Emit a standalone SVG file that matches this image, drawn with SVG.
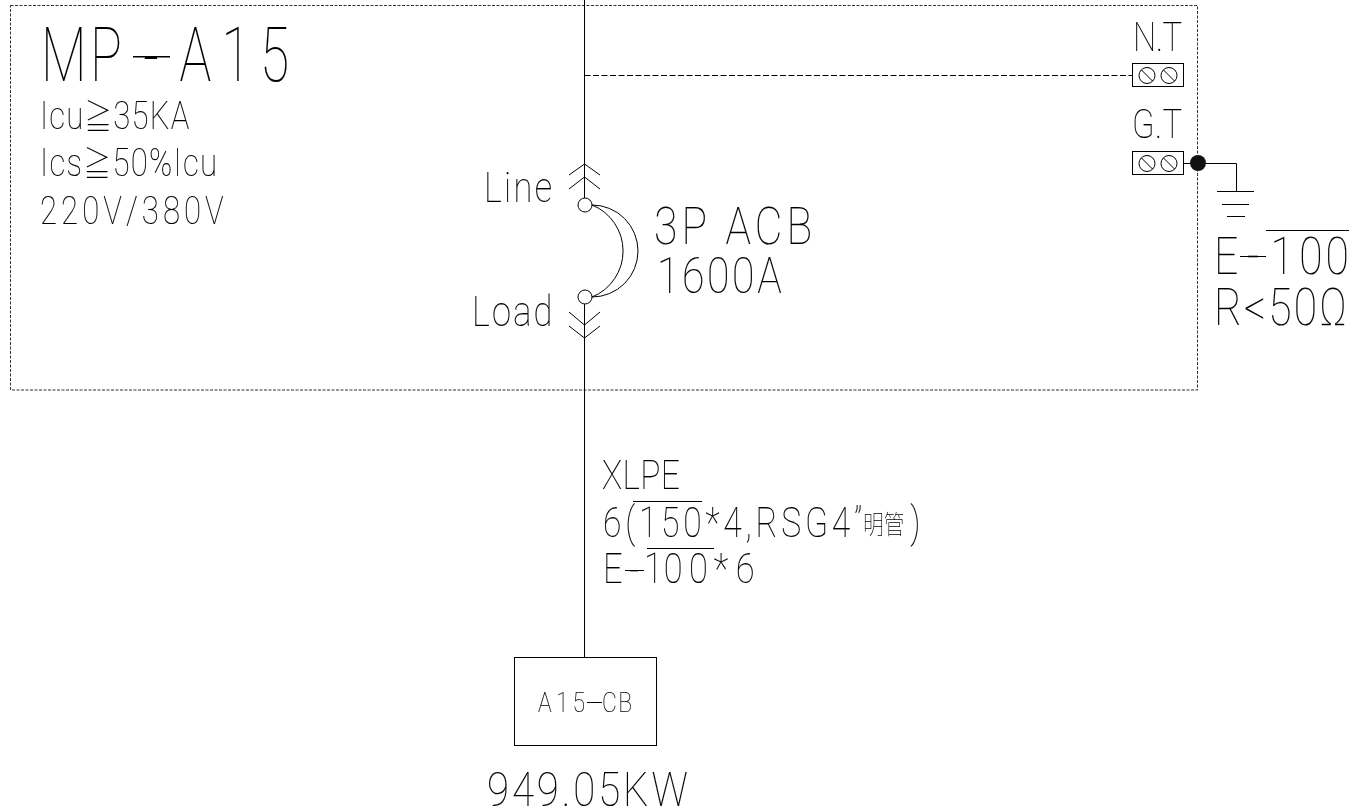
<svg xmlns="http://www.w3.org/2000/svg" width="1372" height="811" viewBox="0 0 1372 811">
<style>
.t{font-family:Roboto,"Liberation Sans",sans-serif;font-weight:100;fill:#000;stroke:#000;stroke-width:.12;filter:url(#g)}
.c{font-family:"Noto Sans CJK SC",sans-serif;font-weight:100;stroke-width:0}
.l{fill:none;stroke:#000;stroke-width:1}
.n{fill:#fff;stroke:#000;stroke-width:1}
.d{stroke-dasharray:6 2.5}
.f{stroke:#333;stroke-dasharray:3 1.5}
</style>
<defs>
<filter id="g" x="-20%" y="-20%" width="140%" height="140%" color-interpolation-filters="sRGB"><feOffset dx="0" dy="0"/></filter>
<g id="term"><rect class="n" x="0" y="0" width="51" height="23"/><circle class="l" cx="14.500" cy="12" r="8"/><path class="l" d="M9 6.500L20 17.500"/><circle class="l" cx="36.500" cy="12" r="8"/><path class="l" d="M31 6.500L42 17.500"/></g></defs>
<g id="frame"><rect class="l f" x="10.500" y="5.500" width="1187" height="384.500"/></g>
<g id="connectors">
<path class="l" d="M584.500 0V198M584.500 304V657"/>
<path class="l d" d="M584.500 75.500H1132"/>
<path class="l" d="M1183 163.500H1236.500V191"/>
<path class="l" d="M569 175L584.500 164L600 175M569 189L584.500 177L600 189M569 312L584.500 325L600 312M569 326L584.500 338L600 326"/>
</g>
<g id="title">
<text class="t" transform="translate(41,81) scale(.7,1)" font-size="76" x="0 70 146 198 258 313" y="0 0 1.500 0 0 0">MP-A15</text>
<path class="l" stroke-width="1.500" style="stroke-width:1.500" d="M133 56.800H170"/>
<text class="t" transform="translate(40,129) scale(.82,1)" font-size="38" textLength="182" lengthAdjust="spacing">Icu<tspan class="c" font-size="34">≧</tspan>35KA</text>
<text class="t" transform="translate(40,176) scale(.82,1)" font-size="38" textLength="216" lengthAdjust="spacing">Ics<tspan class="c" font-size="34">≧</tspan>50%Icu</text>
<text class="t" transform="translate(40,224) scale(.82,1)" font-size="38" textLength="224" lengthAdjust="spacing">220V/380V</text>
</g>
<g id="breaker">
<text class="t" transform="translate(484,202) scale(.82,1)" font-size="42" textLength="83" lengthAdjust="spacing">Line</text>
<text class="t" transform="translate(472,326) scale(.82,1)" font-size="42" textLength="98" lengthAdjust="spacing">Load</text>
<circle class="n" cx="585" cy="205" r="7"/><circle class="n" cx="585" cy="297" r="7"/>
<path class="l" d="M592 205A49.600 49.600 0 0 1 592 297M592 205A46 46 0 0 1 592 297"/>
<text class="t" transform="translate(654,244) scale(.82,1)" font-size="52" textLength="193" lengthAdjust="spacing" xml:space="preserve">3P ACB</text>
<text class="t" transform="translate(657,293) scale(.82,1)" font-size="50" textLength="152" lengthAdjust="spacing">1600A</text>
</g>
<g id="nt">
<text class="t" transform="translate(1133,51) scale(.82,1)" font-size="40" textLength="60" lengthAdjust="spacing">N.T</text>
<use href="#term" x="1132.500" y="63.500"/>
</g>
<g id="gt">
<text class="t" transform="translate(1132,138) scale(.82,1)" font-size="40" textLength="61" lengthAdjust="spacing">G.T</text>
<use href="#term" x="1132.500" y="151.500"/>
<circle cx="1198" cy="163" r="8" fill="#111"/>
</g>
<g id="ground">
<path class="l" d="M1217 191.500H1254M1222 204.500H1249M1227 216.500H1245M1266 230.500H1349"/>
<text class="t" transform="translate(1214,274) scale(.82,1)" font-size="52" x="0 40 69 104 136">E-100</text>
<path class="l" d="M1240 256.500H1266"/>
<text class="t" transform="translate(1214,325) scale(.82,1)" font-size="52" textLength="162" lengthAdjust="spacing">R&lt;50Ω</text>
</g>
<g id="cable">
<text class="t" transform="translate(602,489) scale(.82,1)" font-size="41" textLength="95" lengthAdjust="spacing">XLPE</text>
<text class="t" transform="translate(603,537) scale(.8,1)" font-size="42"><tspan textLength="324" lengthAdjust="spacing">6(150*4,RSG4”</tspan><tspan class="c" x="325" y="-3" font-size="26">明管</tspan><tspan x="384" y="0">)</tspan></text>
<path class="l" d="M633 501.500H702M647 548.500H714M625 570.500H644"/>
<text class="t" transform="translate(603,583) scale(.82,1)" font-size="42" x="0 32 50 74 105 135 162" y="0 1.500 0 0 0 0 0">E-100*6</text>
</g>
<g id="load">
<rect class="n" x="514.500" y="657.500" width="142" height="88"/>
<text class="t" transform="translate(538,712) scale(.82,1)" font-size="28" x="0 22 42 65 78 98">A15-CB</text>
<path class="l" d="M587 702.500H602"/>
<text class="t" transform="translate(487,806) scale(.82,1)" font-size="49" textLength="245" lengthAdjust="spacing">949.05KW</text>
</g>
</svg>
